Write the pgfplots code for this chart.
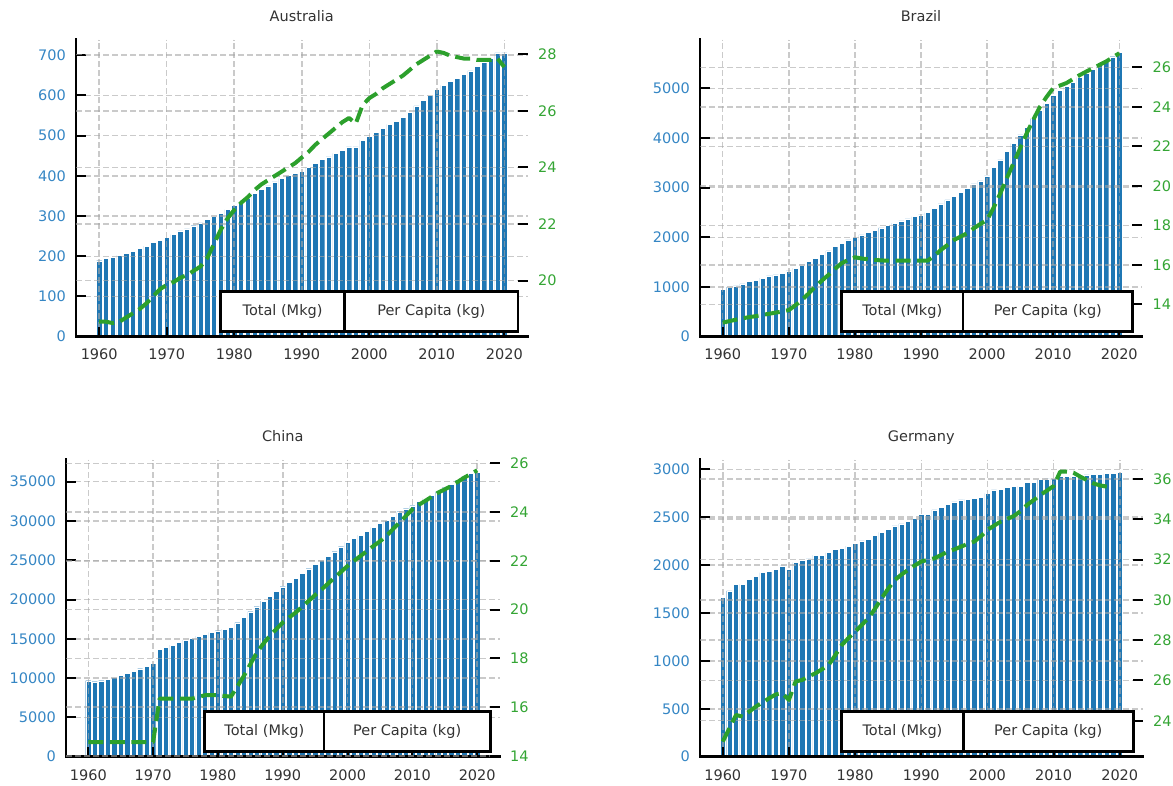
\documentclass[border=0pt]{standalone}
\usepackage{fontspec}
\setmainfont{DejaVu Sans}
\usepackage{pgfplots}
\usepackage{pgfplotstable}
\pgfplotsset{compat=1.18}
\definecolor{barblue}{HTML}{1F77B4}
\definecolor{lgreen}{HTML}{2CA02C}
\definecolor{lblue}{HTML}{3586C4}
\definecolor{tgreen}{HTML}{34A534}
\definecolor{txt}{HTML}{333333}
\newcommand\fs{\fontsize{14.5}{17}\selectfont}

\pgfplotstableread{
year total pc
1960 189 18.55
1961 195 18.55
1962 197 18.5
1963 202 18.55
1964 207 18.7
1965 213 18.85
1966 219 19.0
1967 225 19.2
1968 234 19.45
1969 240 19.7
1970 247 19.85
1971 254 19.95
1972 263 20.1
1973 268 20.2
1974 276 20.35
1975 283 20.5
1976 292 20.8
1977 300 21.3
1978 307 21.8
1979 316 22.2
1980 326 22.5
1981 334 22.75
1982 344 22.95
1983 356 23.2
1984 366 23.4
1985 375 23.55
1986 385 23.7
1987 394 23.85
1988 402 24.0
1989 407 24.15
1990 412 24.35
1991 422 24.55
1992 432 24.8
1993 441 25.0
1994 447 25.2
1995 456 25.4
1996 464 25.6
1997 472 25.75
1998 472 25.55
1999 489 26.2
2000 499 26.45
2001 509 26.6
2002 518 26.8
2003 528 26.95
2004 535 27.1
2005 545 27.25
2006 558 27.45
2007 574 27.65
2008 588 27.8
2009 601 27.95
2010 616 28.1
2011 625 28.05
2012 635 27.95
2013 642 27.9
2014 653 27.85
2015 661 27.85
2016 673 27.8
2017 683 27.8
2018 692 27.8
2019 706 27.85
2020 706 27.55
}\au

\pgfplotstableread{
year total pc
1960 958 13.07
1961 998 13.15
1962 1025 13.22
1963 1065 13.29
1964 1112 13.35
1965 1132 13.4
1966 1179 13.46
1967 1226 13.52
1968 1246 13.58
1969 1280 13.63
1970 1327 13.71
1971 1380 13.95
1972 1447 14.22
1973 1514 14.55
1974 1581 14.89
1975 1662 15.2
1976 1729 15.49
1977 1816 15.8
1978 1883 16.08
1979 1950 16.25
1980 2003 16.38
1981 2050 16.32
1982 2097 16.28
1983 2137 16.25
1984 2191 16.22
1985 2238 16.21
1986 2285 16.21
1987 2332 16.21
1988 2372 16.21
1989 2419 16.21
1990 2452 16.21
1991 2499 16.21
1992 2580 16.45
1993 2673 16.75
1994 2754 17.0
1995 2821 17.26
1996 2901 17.43
1997 2988 17.6
1998 3075 17.85
1999 3136 18.07
2000 3236 18.27
2001 3410 18.9
2002 3558 19.62
2003 3725 20.4
2004 3893 21.14
2005 4060 21.9
2006 4214 22.66
2007 4389 23.35
2008 4549 24.0
2009 4697 24.5
2010 4864 24.94
2011 4965 25.07
2012 5045 25.2
2013 5126 25.4
2014 5219 25.6
2015 5313 25.78
2016 5387 25.95
2017 5487 26.12
2018 5568 26.29
2019 5635 26.5
2020 5722 26.71
}\br

\pgfplotstableread{
year total pc
1960 9672 14.57
1961 9545 14.57
1962 9672 14.57
1963 9841 14.57
1964 10096 14.57
1965 10350 14.57
1966 10605 14.57
1967 10902 14.57
1968 11199 14.57
1969 11538 14.57
1970 11878 14.57
1971 13702 16.35
1972 13914 16.35
1973 14211 16.35
1974 14550 16.35
1975 14847 16.35
1976 15059 16.35
1977 15356 16.42
1978 15568 16.49
1979 15823 16.49
1980 16035 16.49
1981 16247 16.46
1982 16459 16.43
1983 17053 16.85
1984 17732 17.28
1985 18453 17.76
1986 19089 18.24
1987 19810 18.6
1988 20446 18.92
1989 21083 19.2
1990 21634 19.47
1991 22186 19.68
1992 22695 19.88
1993 23331 20.12
1994 23925 20.36
1995 24477 20.6
1996 25028 20.83
1997 25537 21.07
1998 26088 21.31
1999 26725 21.55
2000 27276 21.79
2001 27785 22.0
2002 28209 22.2
2003 28718 22.4
2004 29185 22.61
2005 29694 22.8
2006 30076 23.02
2007 30627 23.3
2008 31179 23.57
2009 31561 23.84
2010 31943 24.11
2011 32494 24.3
2012 32876 24.46
2013 33300 24.63
2014 33724 24.8
2015 34233 24.93
2016 34700 25.07
2017 35124 25.24
2018 35633 25.41
2019 36057 25.56
2020 36185 25.71
}\cn

\pgfplotstableread{
year total pc
1960 1663 22.96
1961 1730 23.62
1962 1799 24.28
1963 1799 24.2
1964 1851 24.45
1965 1886 24.7
1966 1921 24.9
1967 1931 25.11
1968 1956 25.3
1969 1991 25.36
1970 1956 25.03
1971 2029 25.94
1972 2053 26.02
1973 2064 26.2
1974 2105 26.35
1975 2105 26.55
1976 2130 26.76
1977 2165 27.25
1978 2175 27.76
1979 2199 28.1
1980 2227 28.42
1981 2252 28.75
1982 2272 29.08
1983 2307 29.55
1984 2342 30.07
1985 2373 30.55
1986 2408 30.98
1987 2429 31.25
1988 2460 31.48
1989 2488 31.7
1990 2533 31.9
1991 2533 31.98
1992 2575 32.06
1993 2603 32.22
1994 2634 32.39
1995 2659 32.5
1996 2680 32.64
1997 2687 32.77
1998 2700 32.89
1999 2707 33.15
2000 2749 33.47
2001 2784 33.68
2002 2794 33.88
2003 2812 34.02
2004 2822 34.16
2005 2822 34.4
2006 2867 34.71
2007 2867 34.95
2008 2892 35.21
2009 2899 35.42
2010 2906 35.65
2011 2927 36.36
2012 2923 36.36
2013 2923 36.31
2014 2930 36.12
2015 2941 35.95
2016 2948 35.78
2017 2948 35.68
2018 2955 35.62
2019 2958 35.59
2020 2968 nan
}\de

\pgfplotsset{
  common/.style={
    scale only axis, anchor=south west,
    xmin=1956.56, xmax=2023.44,
    tick align=inside,
    major tick length=10pt,
    tick style={black, line width=2pt},
    /pgf/number format/assume math mode=true,
    /pgf/number format/set thousands separator={},
    tick label style={font=\fs},
    major grid style={black!35, opacity=0.6, line width=1.5pt, dash pattern=on 6pt off 3pt},
    height=297.1pt,
  },
  leftax/.style={common,
    axis x line*=bottom, axis y line*=left,
    axis line style={black, line width=2.7pt, -, line cap=rect},
    axis on top,
    ymin=0,
    xtick={1960,1970,...,2020},
    xticklabel style={anchor=base, yshift=-23.3pt, text=txt, inner sep=0pt},
    yticklabel style={anchor=east, xshift=-10pt, text=lblue, inner sep=0pt},
    scaled y ticks=false,
    xmajorgrids, ymajorgrids,
    title style={font=\fs, text=txt, at={(0.5,1)}, anchor=base, yshift=12.3pt, inner sep=0pt},
  },
  rightax/.style={common,
    axis x line=none, axis y line*=right,
    axis line style={draw=none},
    ymajorgrids,
    yticklabel style={anchor=west, xshift=10.5pt, text=tgreen, inner sep=0pt},
  },
  bars/.style={ybar, bar width=0.8, fill=barblue, draw=white, line width=0.4pt},
  pcline/.style={lgreen, line width=4pt, dash pattern=on 15pt off 6.5pt, line cap=butt, line join=round},
}
\newcommand\legtable{%
  \draw[fill=white, line width=2.7pt] (rel axis cs:0.32,0.017) rectangle (rel axis cs:0.979,0.151);
  \draw[line width=2.7pt] (rel axis cs:0.595,0.017) -- (rel axis cs:0.595,0.151);
  \node[font=\fs, text=txt, inner sep=0pt, text height=0.73em, text depth=0pt, anchor=center] at (rel axis cs:0.4575,0.084) {Total (Mkg)};
  \node[font=\fs, text=txt, inner sep=0pt, text height=0.73em, text depth=0pt, anchor=center] at (rel axis cs:0.787,0.084) {Per Capita (kg)};
}

\begin{document}
\begin{tikzpicture}
\path[use as bounding box] (0pt,0pt) rectangle (1173pt,785pt);

% Australia
\begin{axis}[leftax, at={(76pt,448.3pt)}, width=451.5pt, ymax=739, ytick={0,100,...,700}, title={Australia}]
\addplot[bars] table[x=year,y=total] {\au};
\end{axis}
\begin{axis}[rightax, at={(76pt,448.3pt)}, width=451.5pt, ymin=18.02, ymax=28.52, ytick={20,22,...,28}]
\addplot[pcline] table[x=year,y=pc] {\au};
\legtable
\end{axis}

% Brazil
\begin{axis}[leftax, at={(700pt,448.3pt)}, width=442pt, ymax=5980, ytick={0,1000,...,5000}, title={Brazil}]
\addplot[bars] table[x=year,y=total] {\br};
\end{axis}
\begin{axis}[rightax, at={(700pt,448.3pt)}, width=442pt, ymin=12.36, ymax=27.40, ytick={14,16,...,26}]
\addplot[pcline] table[x=year,y=pc] {\br};
\legtable
\end{axis}

% China
\begin{axis}[leftax, at={(66pt,28.3pt)}, width=433.5pt, ymax=37813, ytick={0,5000,...,35000}, title={China}]
\addplot[bars] table[x=year,y=total] {\cn};
\end{axis}
\begin{axis}[rightax, at={(66pt,28.3pt)}, width=433.5pt, ymin=13.97, ymax=26.15, ytick={14,16,...,26}]
\addplot[pcline] table[x=year,y=pc] {\cn};
\legtable
\end{axis}

% Germany
\begin{axis}[leftax, at={(700pt,28.3pt)}, width=442.5pt, ymax=3101, ytick={0,500,...,3000}, title={Germany}]
\addplot[bars] table[x=year,y=total] {\de};
\end{axis}
\begin{axis}[rightax, at={(700pt,28.3pt)}, width=442.5pt, ymin=22.21, ymax=36.96, ytick={24,26,...,36}]
\addplot[pcline] table[x=year,y=pc] {\de};
\legtable
\end{axis}
\end{tikzpicture}
\end{document}
